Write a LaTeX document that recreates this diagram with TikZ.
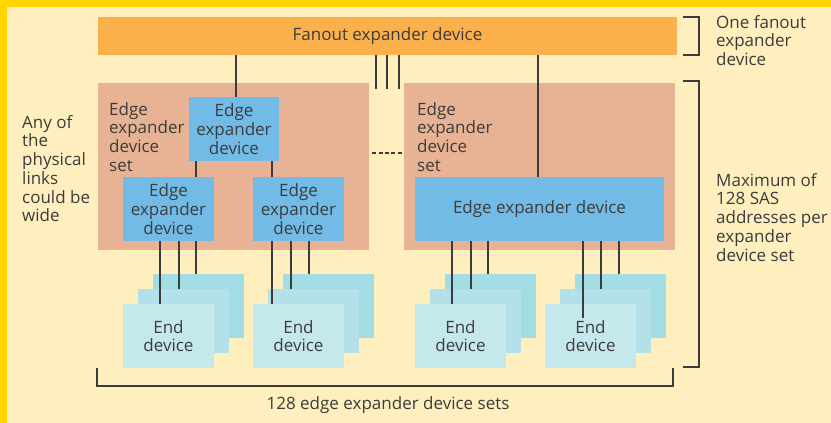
\documentclass[tikz,border=0pt]{standalone}
\usepackage{fontspec}
\setmainfont{Open Sans}
\definecolor{frame}{HTML}{FFD400}
\definecolor{paper}{HTML}{FFEFBE}
\definecolor{fanout}{HTML}{FBB04C}
\definecolor{setbg}{HTML}{E8B294}
\definecolor{edge}{HTML}{72BBE6}
\definecolor{endA}{HTML}{C5E8ED}
\definecolor{endB}{HTML}{B3E0E9}
\definecolor{endC}{HTML}{A2DCE5}
\definecolor{ink}{HTML}{3C3C3C}
\tikzset{
  txt/.style={font=\fontsize{17}{18.7}\selectfont, text=ink},
  boxbase/.style={txt, inner sep=0, align=center},
  fanbox/.style={boxbase, fill=fanout, minimum width=579pt, minimum height=38pt},
  setbox/.style={boxbase, fill=setbg, minimum width=271pt, minimum height=167pt},
  edgebox/.style={boxbase, fill=edge, minimum height=64pt},
  endbox/.style={boxbase, minimum width=91pt, minimum height=64pt},
  link/.style={draw=ink, line width=1.4pt},
  lbl/.style={txt, inner sep=0, align=left, anchor=north west},
}
\begin{document}
\begin{tikzpicture}[x=1pt, y=-1pt]
% page, frame
\fill[paper] (0,0) rectangle (831,423);
\fill[frame] (0,0) rectangle (831,7);
\fill[frame] (0,0) rectangle (7,423);
\useasboundingbox (0,0) rectangle (831,423);

% fanout expander
\node[fanbox] (fan) at (387.5,36) {Fanout expander device};

% expander device sets
\node[setbox] (setL) at (233.5,166.5) {};
\node[setbox] (setR) at (539.5,166.5) {};
\node[lbl] (setLlbl) at (109,102) {Edge\\expander\\device\\set};
\node[lbl] (setRlbl) at (417,102) {Edge\\expander\\device\\set};

% edge expanders
\node[edgebox, minimum width=90pt] (eTop) at (234,129) {Edge\\expander\\device};
\node[edgebox, minimum width=91pt] (eL1) at (168.5,209) {Edge\\expander\\device};
\node[edgebox, minimum width=91pt] (eL2) at (298.5,209) {Edge\\expander\\device};
\node[edgebox, minimum width=249pt] (eR) at (539.5,209) {Edge expander device};

% stacks of end devices
\foreach \i/\x in {1/168.5, 2/298.5, 3/460.5, 4/590.5}{
  \node[endbox, fill=endC] (c\i) at (\x+30,306) {};
  \node[endbox, fill=endB] (b\i) at (\x+15,321) {};
  \node[endbox, fill=endA] (a\i) at (\x,336) {End\\device};
}

% links from the fanout expander
\draw[link] (fan.south -| 236,0) -- (eTop.north -| 236,0);
\draw[link] (fan.south -| 538,0) -- (eR.north -| 538,0);
\coordinate (t1) at (376,89);
\coordinate (t2) at (387,89);
\coordinate (t3) at (399,89);
\foreach \t in {t1,t2,t3}
  \draw[link] (fan.south -| \t) -- (\t);
\draw[link, dash pattern=on 4pt off 2.4pt, shorten <=3pt, shorten >=2pt]
  (setL.east |- 0,153) -- (setR.west |- 0,153);

% links inside the left set
\draw[link] (eTop.south -| 196,0) -- (eL1.north -| 196,0);
\draw[link] (eTop.south -| 272,0) -- (eL2.north -| 272,0);

% links down to the end devices
\draw[link] (eL1.south -| 160,0) -- (a1.north -| 160,0);
\draw[link] (eL1.south -| 179,0) -- (b1.north -| 179,0);
\draw[link] (eL1.south -| 196,0) -- (c1.north -| 196,0);
\draw[link] (eL2.south -| 272,0) -- (a2.north -| 272,0);
\draw[link] (eL2.south -| 291,0) -- (b2.north -| 291,0);
\draw[link] (eL2.south -| 309,0) -- (c2.north -| 309,0);
\draw[link] (eR.south -| 452,0) -- (a3.north -| 452,0);
\draw[link] (eR.south -| 471,0) -- (b3.north -| 471,0);
\draw[link] (eR.south -| 488,0) -- (c3.north -| 488,0);
\coordinate (a4in) at (583,318);
\draw[link] (eR.south -| a4in) -- (a4in);
\draw[link] (eR.south -| 601,0) -- (b4.north -| 601,0);
\draw[link] (eR.south -| 619,0) -- (c4.north -| 619,0);

% brackets
\draw[link, line width=1.2pt] (683,17) -- (699,17) -- (699,55) -- (683,55);
\draw[link, line width=1.2pt] (683,81) -- (699,81) -- (699,367) -- (683,367);
\draw[link, line width=1.2pt] (97,368) -- (97,386) -- (673,386) -- (673,368);

% annotations
\node[lbl] (wide) at (22,115) {Any of\\the\\physical\\links\\could be\\wide};
\node[lbl] (onefan) at (716,15) {One fanout\\expander\\device};
\node[lbl] (maxsas) at (716,173) {Maximum of\\128 SAS\\addresses per\\expander\\device set};
\node[txt, inner sep=0, anchor=base] (sets) at (388,409) {128 edge expander device sets};
\end{tikzpicture}
\end{document}
